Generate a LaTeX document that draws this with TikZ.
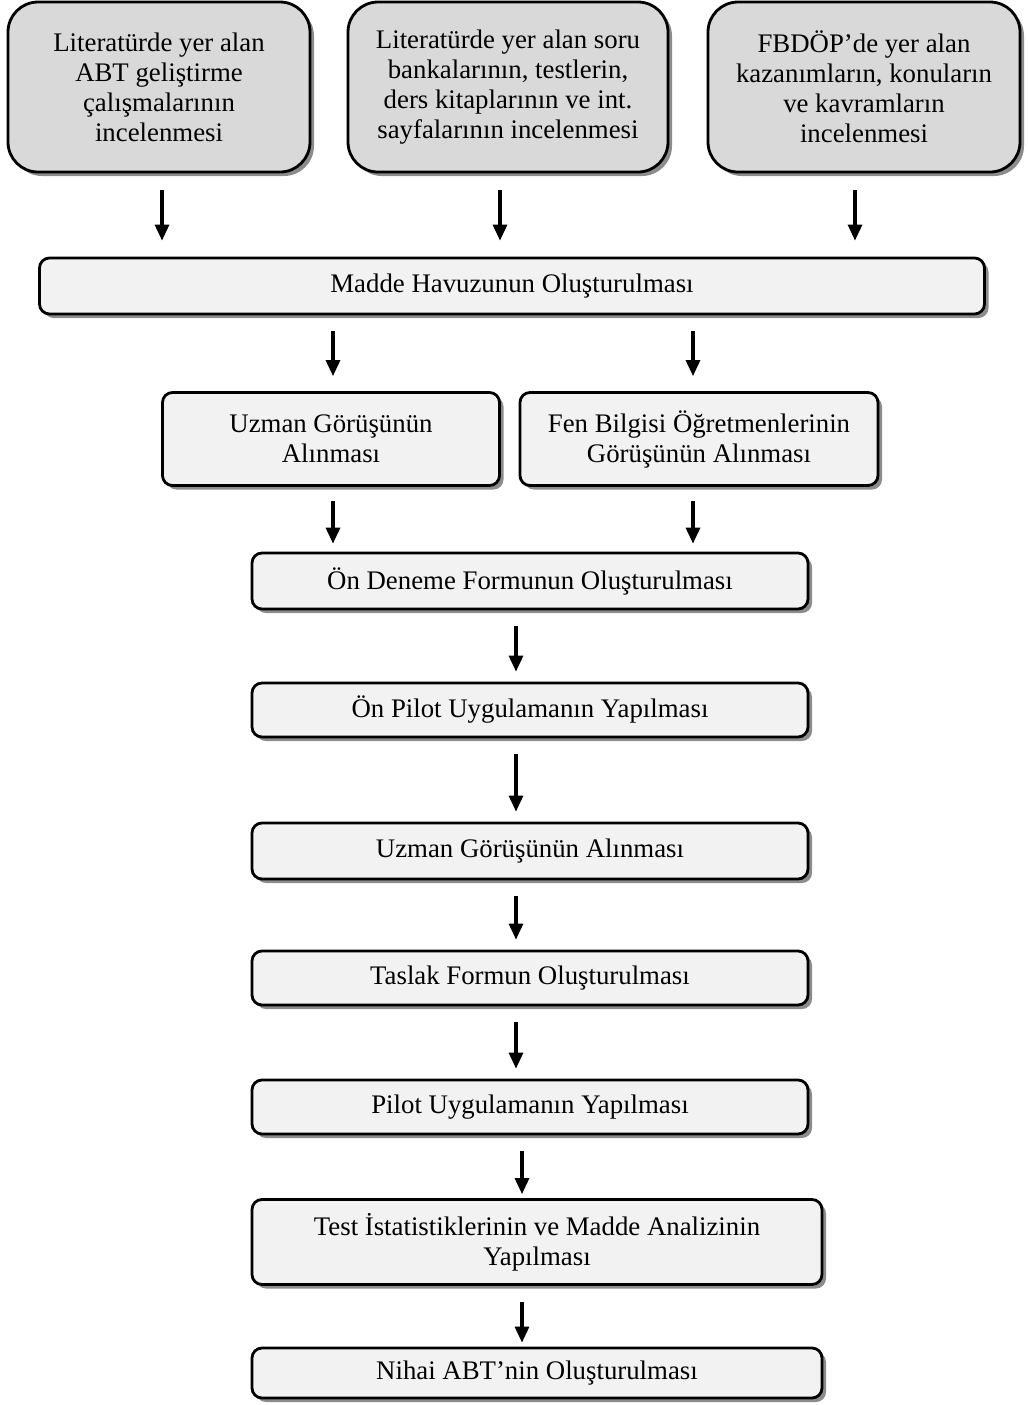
\documentclass[tikz,border=0pt]{standalone}
\usepackage{fontspec}
\setmainfont{Liberation Serif}
\usetikzlibrary{positioning,shadows,arrows.meta}

\begin{document}
\begin{tikzpicture}[x=0.5pt,y=-0.5pt,
    kutu/.style={draw, line width=1.4pt, align=center, inner sep=2pt,
        font=\fontsize{13.4}{15}\selectfont,
        drop shadow={shadow xshift=2pt, shadow yshift=-2pt, fill=black!45, opacity=1}},
    kaynak/.style={kutu, fill=black!15, rounded corners=15pt, minimum height=85pt},
    adim/.style={kutu, fill=black!5, rounded corners=5pt, minimum height=28pt},
    ok/.style={-{Triangle[length=8pt,width=7pt]}, line width=1.6pt, shorten <=8pt, shorten >=5pt}]
    \useasboundingbox (0,0) rectangle (1028,1405);

    % Kaynaklar
    \node[kaynak, minimum width=151pt] (lit1) at (159,87) {Literatürde yer alan\\ABT geliştirme\\çalışmalarının\\incelenmesi};
    \node[kaynak, minimum width=160pt] (lit2) at (508,87) {Literatürde yer alan soru\\bankalarının, testlerin,\\ders kitaplarının ve int.\\sayfalarının incelenmesi};
    \node[kaynak, minimum width=156pt] (fbd) at (864,87) {FBDÖP’de yer alan\\kazanımların, konuların\\ve kavramların\\incelenmesi};

    % Madde havuzu
    \node[adim, minimum width=472.5pt] (havuz) at (512,286) {Madde Havuzunun Oluşturulması};

    % Gorusler
    \node[adim, minimum width=168.5pt, minimum height=46.5pt] (uzman1) at (331,439) {Uzman Görüşünün\\Alınması};
    \node[adim, minimum width=179pt, minimum height=46.5pt] (ogretmen) at (699,439) {Fen Bilgisi Öğretmenlerinin\\Görüşünün Alınması};

    % Adimlar
    \node[adim, minimum width=278pt] (onform) at (530,581) {Ön Deneme Formunun Oluşturulması};
    \node[adim, minimum width=278pt, minimum height=27pt] (onpilot) at (530,710) {Ön Pilot Uygulamanın Yapılması};
    \node[adim, minimum width=278pt] (uzman2) at (530,851) {Uzman Görüşünün Alınması};
    \node[adim, minimum width=278pt, minimum height=27pt] (taslak) at (530,978) {Taslak Formun Oluşturulması};
    \node[adim, minimum width=278pt, minimum height=27pt] (pilot) at (530,1107) {Pilot Uygulamanın Yapılması};
    \node[adim, minimum width=285pt, minimum height=42.5pt] (analiz) at (537,1242) {Test İstatistiklerinin ve Madde Analizinin\\Yapılması};
    \node[adim, minimum width=285pt, minimum height=25pt] (nihai) at (537,1373) {Nihai ABT’nin Oluşturulması};

    % Oklar
    \draw[ok, shorten <=8.5pt, shorten >=8pt] ([xshift=1.5pt]lit1.south) -- ([xshift=-175pt]havuz.north);
    \draw[ok, shorten <=8.5pt, shorten >=8pt] ([xshift=-4pt]lit2.south) -- ([xshift=-6pt]havuz.north);
    \draw[ok, shorten <=8.5pt, shorten >=8pt] ([xshift=-4.5pt]fbd.south) -- ([xshift=171.5pt]havuz.north);
    \draw[ok, shorten >=7.5pt] ([xshift=-89.5pt]havuz.south) -- ([xshift=1pt]uzman1.north);
    \draw[ok, shorten >=7.5pt] ([xshift=90.5pt]havuz.south) -- ([xshift=-3pt]ogretmen.north);
    \draw[ok, shorten <=7pt, shorten >=4pt] ([xshift=1pt]uzman1.south) -- ([xshift=-98.5pt]onform.north);
    \draw[ok, shorten <=7pt, shorten >=4pt] ([xshift=-3pt]ogretmen.south) -- ([xshift=81.5pt]onform.north);
    \draw[ok] ([xshift=-7pt]onform.south) -- ([xshift=-7pt]onpilot.north);
    \draw[ok] ([xshift=-7pt]onpilot.south) -- ([xshift=-7pt]uzman2.north);
    \draw[ok] ([xshift=-7pt]uzman2.south) -- ([xshift=-7pt]taslak.north);
    \draw[ok] ([xshift=-7pt]taslak.south) -- ([xshift=-7pt]pilot.north);
    \draw[ok, shorten >=2pt] ([xshift=-4pt]pilot.south) -- ([xshift=-7.5pt]analiz.north);
    \draw[ok, shorten >=2pt] ([xshift=-7.5pt]analiz.south) -- ([xshift=-7.5pt]nihai.north);
\end{tikzpicture}
\end{document}
